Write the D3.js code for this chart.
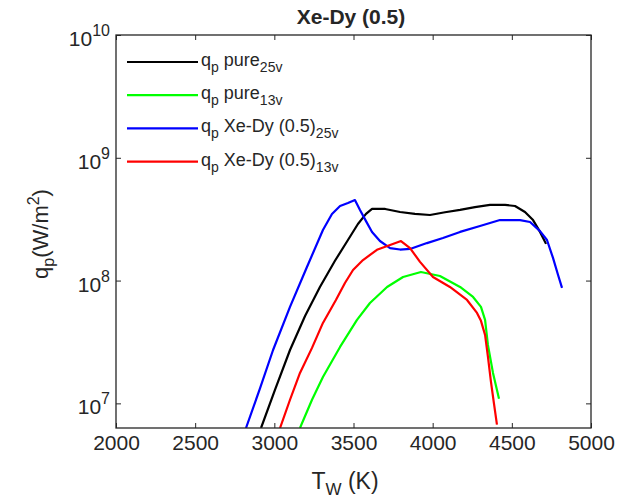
<!DOCTYPE html>
<html>
<head>
<meta charset="utf-8">
<script src="https://cdn.jsdelivr.net/npm/d3@7"></script>
<style>
  body { margin: 0; background: #fff; }
  svg { display: block; }
  text { font-family: "Liberation Sans", Arial, Helvetica, sans-serif; fill: #262626; }
</style>
</head>
<body>
<svg id="chart" width="618" height="502"></svg>
<script>
// Axis ticks
const xTicks = [2000, 2500, 3000, 3500, 4000, 4500, 5000];
const yTickExponents = [7, 8, 9, 10];

// Wall temperature T_W (K) and peak heat flux q_p (W/m^2) for each run
const pure25T = [2916, 3004, 3099, 3194, 3288, 3383, 3465, 3528, 3579, 3617, 3700, 3794, 3888, 3983, 4078, 4173, 4267, 4362, 4457, 4520, 4583, 4634, 4678, 4716];
const pure25Q = [6.3e6, 1.29e7, 2.72e7, 5.15e7, 8.87e7, 1.45e8, 2.14e8, 2.89e8, 3.49e8, 3.83e8, 3.83e8, 3.62e8, 3.49e8, 3.42e8, 3.60e8, 3.76e8, 3.97e8, 4.13e8, 4.13e8, 4.05e8, 3.62e8, 3.11e8, 2.49e8, 1.99e8];

const pure13T = [3162, 3238, 3307, 3415, 3522, 3604, 3712, 3813, 3926, 4046, 4173, 4255, 4305, 4331, 4349, 4381, 4419];
const pure13Q = [6.3e6, 1.07e7, 1.64e7, 2.88e7, 4.78e7, 6.57e7, 8.87e7, 1.07e8, 1.175e8, 1.09e8, 8.87e7, 7.35e7, 6.10e7, 4.78e7, 2.99e7, 1.77e7, 1.09e7];

const xedy25T = [2821, 2910, 2992, 3099, 3206, 3307, 3364, 3415, 3465, 3509, 3541, 3579, 3617, 3667, 3731, 3794, 3857, 3964, 4065, 4173, 4299, 4425, 4552, 4615, 4678, 4722, 4760, 4792, 4817];
const xedy25Q = [6.3e6, 1.33e7, 2.72e7, 6.10e7, 1.29e8, 2.58e8, 3.49e8, 4.05e8, 4.28e8, 4.53e8, 3.76e8, 3.05e8, 2.49e8, 2.10e8, 1.84e8, 1.79e8, 1.81e8, 2.02e8, 2.22e8, 2.49e8, 2.78e8, 3.11e8, 3.11e8, 3.00e8, 2.53e8, 2.14e8, 1.53e8, 1.11e8, 8.71e7];

const xedy13T = [3036, 3099, 3162, 3238, 3307, 3389, 3446, 3497, 3560, 3648, 3731, 3800, 3857, 3920, 4002, 4109, 4217, 4280, 4305, 4331, 4349, 4368, 4387, 4406];
const xedy13Q = [6.3e6, 1.07e7, 1.77e7, 2.83e7, 4.52e7, 6.95e7, 9.55e7, 1.22e8, 1.47e8, 1.78e8, 1.95e8, 2.10e8, 1.84e8, 1.42e8, 1.07e8, 8.87e7, 6.95e7, 5.45e7, 4.70e7, 3.61e7, 2.40e7, 1.50e7, 1.00e7, 6.7e6];

const seriesLabel = ["pure", "pure", "Xe-Dy (0.5)", "Xe-Dy (0.5)"];
const seriesSub = ["25v", "13v", "25v", "13v"];
const seriesColor = ["#000000", "#00ff00", "#0000ff", "#ff0000"];

const series = [
  { T: pure25T, Q: pure25Q },
  { T: pure13T, Q: pure13Q },
  { T: xedy25T, Q: xedy25Q },
  { T: xedy13T, Q: xedy13Q }
].map((s, i) => ({
  label: seriesLabel[i], sub: seriesSub[i], color: seriesColor[i],
  points: s.T.map((t, j) => [t, s.Q[j]])
}));

const svg = d3.select("#chart");
const plot = { left: 116, right: 591, top: 35, bottom: 428 };

const x = d3.scaleLinear().domain([2000, 5000]).range([plot.left, plot.right]);
const y = d3.scaleLog().domain([6.3e6, 1e10]).range([plot.bottom, plot.top]);

svg.append("clipPath").attr("id", "plot-clip")
  .append("rect")
  .attr("x", plot.left).attr("y", plot.top)
  .attr("width", plot.right - plot.left).attr("height", plot.bottom - plot.top);

// Curves
const line = d3.line().x(d => x(d[0])).y(d => y(d[1]));
svg.append("g").attr("clip-path", "url(#plot-clip)")
  .selectAll("path").data(series).join("path")
  .attr("d", d => line(d.points))
  .attr("fill", "none")
  .attr("stroke", d => d.color)
  .attr("stroke-width", 2.2)
  .attr("stroke-linejoin", "round");

// Axes with inward ticks on all four sides
const yTickValues = yTickExponents.map(e => Math.pow(10, e));
const axisStyle = g => {
  g.select(".domain").remove();
  g.selectAll(".tick line").attr("stroke", "#262626");
  g.selectAll(".tick text").attr("font-size", 21).attr("fill", "#262626");
};

svg.append("g").attr("transform", `translate(0,${plot.bottom})`)
  .call(d3.axisBottom(x).tickValues(xTicks).tickSize(-5).tickPadding(7).tickFormat(d3.format("d")))
  .call(axisStyle)
  .call(g => g.selectAll(".tick text").attr("font-family", null));

svg.append("g").attr("transform", `translate(0,${plot.top})`)
  .call(d3.axisTop(x).tickValues(xTicks).tickSize(-5).tickFormat(""))
  .call(axisStyle);

const leftAxis = svg.append("g").attr("transform", `translate(${plot.left},0)`)
  .call(d3.axisLeft(y).tickValues(yTickValues).tickSize(-5).tickPadding(6).tickFormat(""))
  .call(axisStyle);
leftAxis.selectAll(".tick text").each(function(d) {
  const t = d3.select(this).attr("font-family", null).attr("dy", "0.5em");
  t.append("tspan").text("10");
  t.append("tspan").attr("font-size", 16).attr("dy", -10).text(Math.round(Math.log10(d)));
});

svg.append("g").attr("transform", `translate(${plot.right},0)`)
  .call(d3.axisRight(y).tickValues(yTickValues).tickSize(-5).tickFormat(""))
  .call(axisStyle);

// Box
svg.append("rect")
  .attr("x", plot.left).attr("y", plot.top)
  .attr("width", plot.right - plot.left).attr("height", plot.bottom - plot.top)
  .attr("fill", "none").attr("stroke", "#262626").attr("stroke-width", 1.3);

// Title
svg.append("text")
  .attr("x", 351).attr("y", 24)
  .attr("text-anchor", "middle")
  .attr("font-size", 21).attr("font-weight", "bold")
  .attr("fill", "#000")
  .text("Xe-Dy (0.5)");

// X axis label: T_W (K)
const xl = svg.append("text")
  .attr("x", 345).attr("y", 489)
  .attr("text-anchor", "middle").attr("font-size", 23);
xl.append("tspan").text("T");
xl.append("tspan").attr("font-size", 17).attr("dy", 6).text("W");
xl.append("tspan").attr("dy", -6).text(" (K)");

// Y axis label: q_p(W/m^2)
const yl = svg.append("text")
  .attr("transform", "translate(48,234) rotate(-90)")
  .attr("text-anchor", "middle").attr("font-size", 22);
yl.append("tspan").text("q");
yl.append("tspan").attr("font-size", 16).attr("dy", 6).text("p");
yl.append("tspan").attr("dy", -6).text("(W/m");
yl.append("tspan").attr("font-size", 16).attr("dy", -9).text("2");
yl.append("tspan").attr("dy", 9).text(")");

// Legend
const legend = svg.append("g");
const legendRows = legend.selectAll("g").data(series).join("g")
  .attr("transform", (d, i) => `translate(0,${62 + i * 33.2})`);
legendRows.append("line")
  .attr("x1", 127).attr("x2", 198)
  .attr("stroke", d => d.color).attr("stroke-width", 2.2);
const lt = legendRows.append("text")
  .attr("x", 201).attr("y", 4).attr("font-size", 18);
lt.append("tspan").text("q");
lt.append("tspan").attr("font-size", 14).attr("dy", 6).text("p");
lt.append("tspan").attr("dy", -6).text(d => " " + d.label);
lt.append("tspan").attr("font-size", 14).attr("dy", 6).text(d => d.sub);
</script>
</body>
</html>
